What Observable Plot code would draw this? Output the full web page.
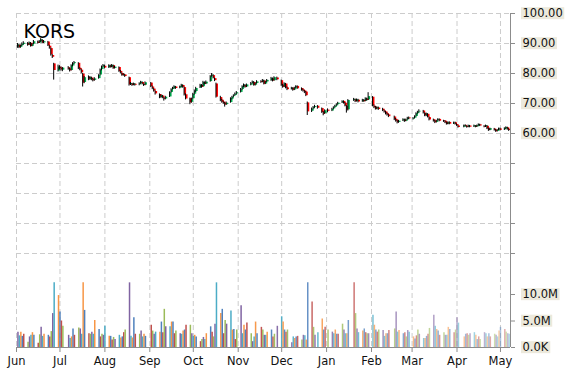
<!DOCTYPE html>
<html><head><meta charset="utf-8">
<script src="https://cdn.jsdelivr.net/npm/d3@7"></script>
<script src="https://cdn.jsdelivr.net/npm/@observablehq/plot@0.6"></script>
<style>
html,body{margin:0;padding:0;background:#fff;}
#chart{position:relative;width:570px;height:370px;}
#chart svg{position:absolute;left:0;top:0;}
</style>
</head><body><div id="chart"></div>
<script>
const ticker = "KORS";
const firstDay = "2014-06-02", lastDay = "2015-05-07";
const holidays = ["2014-07-04","2014-09-01","2014-11-27","2014-12-25","2015-01-01","2015-01-19","2015-02-16","2015-04-03"];
const monthTicks = ["2014-06-01","2014-07-01","2014-08-01","2014-09-01","2014-10-01","2014-11-01","2014-12-01","2015-01-01","2015-02-01","2015-03-01","2015-04-01","2015-05-01"];
const monthLabels = ["Jun","Jul","Aug","Sep","Oct","Nov","Dec","Jan","Feb","Mar","Apr","May"];
const priceTicks = [60,70,80,90,100];
const priceGridLevels = [20,30,40,50,60,70,80,90,100];
const volumeTicks = [0,5e6,10e6];
const volumeTickLabels = ["0.0K","5.0M","10.0M"];

const opens = [
88.8,89.4,88.7,89.3,89.7,90.0,89.5,90.1,89.1,89.8,90.5,90.1,90.6,91.0,90.2,90.5,89.1,88.3,86.0,83.2,80.8,
82.1,81.7,81.1,81.9,81.5,81.0,82.5,83.3,83.4,81.7,81.1,79.8,77.0,78.7,78.0,78.5,78.0,77.7,78.3,79.5,81.3,82.2,
82.4,81.9,82.5,82.1,82.6,81.7,82.0,80.7,80.0,79.4,79.5,78.6,76.3,76.5,76.1,76.4,76.2,76.7,77.0,76.3,76.1,
76.8,75.5,74.8,74.0,73.0,72.0,72.5,71.8,71.5,72.2,73.7,74.7,75.0,75.5,75.1,75.5,76.0,75.3,72.9,71.6,70.4,
71.6,73.1,74.0,75.2,76.0,75.6,76.9,76.5,77.3,79.1,79.3,78.3,76.5,72.0,71.1,70.5,70.1,69.6,70.3,71.5,72.3,72.7,73.2,
73.7,74.7,75.5,76.0,75.5,76.1,76.7,77.0,76.1,76.7,77.3,77.1,77.5,76.5,77.2,77.6,78.2,77.6,78.5,
77.6,76.1,75.5,76.5,75.2,74.7,75.1,74.5,75.2,75.7,75.0,74.5,74.2,73.8,70.2,67.4,68.2,68.7,69.1,68.3,67.1,66.6,
67.8,67.5,68.2,68.7,69.2,69.7,70.2,70.7,70.1,69.0,67.9,71.0,71.2,70.7,71.1,70.6,71.0,70.8,71.5,71.2,
72.1,69.1,68.7,68.2,68.5,68.1,67.5,67.2,66.6,66.2,65.5,64.7,64.2,63.7,64.2,64.5,64.1,64.6,65.2,
64.8,65.1,65.7,66.6,67.2,67.5,66.7,65.8,66.4,65.3,64.6,64.2,63.7,64.3,64.7,64.2,64.1,63.6,63.1,63.7,63.2,63.6,
63.0,62.5,62.1,62.7,62.3,62.1,62.5,62.2,62.5,62.2,62.6,62.9,62.4,62.2,62.4,61.6,61.1,61.5,61.1,60.7,61.2,
61.5,61.2,61.6,61.9,61.4];
const highs = [
90.0,89.6,89.5,90.2,90.6,90.3,90.5,90.3,90.0,91.0,90.8,91.0,91.6,91.3,91.0,90.7,89.4,88.5,86.3,83.4,82.8,
82.6,82.2,82.0,82.3,81.8,82.9,83.6,84.0,83.6,81.9,81.4,80.0,79.0,79.2,79.0,78.8,78.3,78.6,79.6,81.5,82.5,83.0,
82.8,82.9,82.8,83.0,82.8,82.4,82.2,81.0,80.2,79.9,79.7,78.8,77.0,76.7,76.8,76.6,76.9,77.4,77.2,76.5,77.2,
77.0,75.8,75.0,74.2,73.2,72.9,72.7,72.0,72.4,73.9,74.9,75.4,75.9,75.7,75.8,76.4,76.2,75.5,73.2,71.8,71.8,
73.4,74.5,75.4,76.4,76.3,77.4,77.2,77.5,79.3,80.0,79.6,78.5,76.8,72.4,71.4,70.8,70.3,70.5,71.9,72.4,72.9,73.5,74.0,
75.0,75.9,76.5,76.3,76.5,77.0,77.5,77.3,76.9,77.6,77.6,78.0,77.8,77.4,78.0,78.7,78.5,78.9,78.8,
77.8,76.4,76.9,76.7,75.5,75.4,75.3,75.4,75.9,75.9,75.2,74.8,74.4,74.0,70.5,68.5,69.0,69.4,69.3,68.5,67.3,67.9,
68.2,68.4,68.9,69.4,69.9,70.4,70.9,70.9,70.3,69.3,71.3,71.7,71.5,71.5,71.4,71.4,71.3,71.9,71.8,73.6,
72.3,69.5,69.0,68.9,68.8,68.4,67.8,67.4,66.9,66.4,65.8,65.0,64.4,64.4,64.9,64.8,64.8,65.4,65.5,
65.3,65.9,66.9,67.4,67.9,67.7,66.9,66.8,66.6,65.5,64.8,64.4,64.4,64.9,64.9,64.4,64.3,63.8,63.9,63.9,63.8,63.8,
63.2,62.7,62.8,62.9,62.5,62.8,62.7,62.8,62.6,62.8,63.2,63.1,62.6,62.8,62.6,61.8,61.8,61.7,61.3,61.3,61.8,
61.8,61.9,62.2,62.1,61.6];
const lows = [
88.4,88.3,88.4,89.0,89.5,89.1,89.3,88.8,88.9,89.6,89.8,90.0,90.4,90.0,90.0,89.0,88.1,85.8,85.0,77.8,80.5,
81.2,80.8,80.6,81.1,80.5,80.8,82.2,83.0,81.3,80.9,79.9,75.5,76.6,77.6,77.7,77.6,77.2,77.4,78.1,79.2,80.9,82.0,
81.5,81.7,81.8,81.9,81.4,81.5,80.4,79.9,79.1,79.1,78.7,75.8,76.0,75.7,75.9,75.8,75.9,76.4,76.2,75.7,75.9,
75.3,74.6,73.8,72.8,71.6,71.7,71.6,70.8,71.2,72.0,73.5,74.5,74.8,74.7,74.9,75.3,75.1,72.5,71.2,69.6,70.1,
71.3,72.8,73.7,75.0,75.1,75.4,76.2,76.3,77.1,78.8,78.2,77.3,71.8,70.6,70.1,69.7,68.8,69.4,70.1,71.2,72.0,72.5,72.9,
73.5,74.4,75.3,75.1,75.3,75.9,76.5,75.8,75.8,76.5,76.7,76.9,76.2,76.3,77.0,77.4,77.2,77.4,77.6,
75.7,75.1,75.3,74.9,74.3,74.5,74.1,74.3,75.0,74.7,74.1,73.8,73.3,72.3,66.0,67.0,67.9,68.4,68.1,66.7,65.9,66.4,
66.9,67.3,68.0,68.5,69.0,69.5,70.0,69.8,68.9,66.8,67.5,70.7,70.3,70.5,70.2,70.4,70.4,70.6,70.8,71.0,
68.9,68.3,67.8,67.9,67.7,67.3,66.8,66.2,65.8,65.3,64.3,63.8,63.2,63.4,64.0,63.7,63.9,64.4,64.6,
64.5,64.9,65.5,66.4,66.9,66.5,65.6,65.6,65.2,64.2,63.8,63.3,63.5,64.1,63.9,63.7,63.3,62.8,62.9,62.9,63.0,62.8,
62.4,61.8,61.9,62.2,61.8,61.9,61.9,62.0,61.9,62.0,62.4,62.3,61.9,62.0,61.3,60.7,60.9,60.8,60.4,60.5,61.0,
60.8,61.0,61.4,61.1,60.7];
const closes = [
89.5,88.6,89.2,89.8,90.1,89.4,90.2,89.0,89.6,90.6,90.0,90.7,91.2,90.1,90.6,89.2,88.4,86.2,85.4,81.0,82.2,
81.6,81.2,81.8,81.4,80.9,82.6,83.2,83.6,81.6,81.2,80.2,76.8,78.6,78.1,78.6,77.9,77.6,78.2,79.3,81.2,82.1,82.6,
81.8,82.6,82.0,82.7,81.6,82.1,80.6,80.1,79.3,79.6,79.0,76.2,76.6,76.0,76.5,76.1,76.6,77.1,76.4,76.0,76.9,
75.6,74.9,74.1,73.2,72.1,72.6,71.9,71.4,72.1,73.6,74.6,75.1,75.6,75.0,75.6,76.1,75.4,72.8,71.5,70.2,71.4,
73.0,74.1,75.0,76.1,75.4,77.0,76.4,77.1,79.0,79.4,78.4,77.6,72.1,71.0,70.4,70.0,69.5,70.1,71.6,72.1,72.6,73.1,73.6,
74.6,75.6,76.1,75.4,76.2,76.6,77.1,76.0,76.6,77.2,77.0,77.6,76.4,77.1,77.7,78.3,77.5,78.6,77.9,
76.0,75.4,76.6,75.1,74.6,75.0,74.4,75.1,75.6,74.9,74.4,74.1,73.6,72.6,67.2,68.1,68.6,69.0,68.4,67.0,66.4,67.6,
67.4,68.1,68.6,69.1,69.6,70.1,70.6,70.0,69.1,67.8,71.0,71.3,70.6,71.2,70.5,71.1,70.6,71.6,71.0,72.3,
69.2,68.6,68.1,68.6,68.0,67.6,67.1,66.5,66.1,65.6,64.6,64.1,63.6,64.1,64.6,64.0,64.5,65.1,64.9,
65.0,65.6,66.6,67.1,67.4,66.8,65.9,66.5,65.4,64.5,64.1,63.6,64.2,64.6,64.1,64.0,63.5,63.0,63.6,63.1,63.5,63.0,
62.6,62.0,62.6,62.4,62.0,62.6,62.1,62.6,62.1,62.6,63.0,62.5,62.1,62.6,61.5,61.0,61.6,61.0,60.6,61.1,61.5,
61.1,61.7,62.0,61.3,61.0];
// volume, millions of shares
const volumes = [
2.9,2.2,2.9,2.1,2.5,1.0,2.0,2.3,2.8,2.3,0.8,2.4,3.8,2.1,2.5,2.3,2.0,3.0,6.4,12.2,9.8,
6.7,5.0,4.0,2.3,1.7,2.0,3.5,2.3,3.7,3.5,2.5,12.2,7.0,2.6,2.5,2.9,2.5,5.1,3.4,2.0,2.5,2.3,
4.0,2.1,2.1,1.4,1.9,1.5,2.3,1.8,2.0,2.8,3.3,12.2,2.1,1.8,5.6,2.5,2.5,3.1,2.0,2.5,2.1,
4.2,3.1,2.5,2.9,2.9,4.8,2.8,7.2,3.9,3.9,4.8,4.8,2.6,3.1,2.6,2.5,3.1,3.3,4.2,4.2,2.6,
2.1,2.3,2.0,1.1,1.5,1.9,1.5,2.6,3.9,2.9,2.0,4.4,12.2,6.4,7.2,2.6,5.1,4.4,6.9,3.3,3.4,1.5,3.3,
7.9,2.6,4.2,3.3,4.6,2.6,1.1,2.0,4.8,2.6,3.8,3.3,2.3,2.3,2.9,3.3,2.0,2.5,4.0,
5.8,4.8,3.3,2.9,3.3,0.9,2.0,1.7,2.0,2.1,1.4,2.3,2.2,1.4,12.2,8.6,3.8,2.3,2.8,5.4,3.3,3.8,
3.3,2.9,2.6,3.3,2.5,2.5,4.4,3.3,2.6,2.6,5.1,12.2,6.4,3.5,2.8,3.1,3.5,2.8,2.6,2.6,
6.1,4.2,3.3,2.9,3.3,3.2,2.1,2.6,2.6,3.2,3.5,6.7,2.9,3.2,2.6,2.8,2.0,3.2,2.9,
2.0,1.6,2.2,3.3,2.5,1.7,1.7,2.1,2.5,3.6,6.1,4.0,3.4,3.1,2.3,2.8,2.3,2.3,3.8,3.4,2.8,3.3,
5.6,4.6,2.0,2.5,2.6,2.3,2.6,2.8,2.3,1.5,2.0,1.5,2.8,2.6,2.0,2.6,2.0,2.5,2.3,2.0,3.1,
3.8,3.4,2.9,2.6,2.5];

// ---- build trading dates (weekdays minus exchange holidays)
const parse = d3.utcParse("%Y-%m-%d");
const holidaySet = new Set(holidays);
const dates = [];
for (let d = parse(firstDay); d <= parse(lastDay); d = d3.utcDay.offset(d, 1)) {
  const wd = d.getUTCDay();
  if (wd === 0 || wd === 6) continue;
  if (holidaySet.has(d3.utcFormat("%Y-%m-%d")(d))) continue;
  dates.push(d);
}
const rows = dates.map((date, i) => ({
  date, open: opens[i], high: highs[i], low: lows[i], close: closes[i], volume: volumes[i] * 1e6, i
}));
const monthDates = monthTicks.map(parse);
const xDomain = [parse("2014-06-01"), new Date(Date.UTC(2015, 4, 7, 22))];

const W = 570, H = 370, mL = 16, mR = 60, mT = 13, mB = 23;
const grid = "#cccccc", axisGray = "#8c8c8c";
const font = "DejaVu Sans, Verdana, sans-serif";
const palette = ["#4F81BD","#C0504D","#9BBB59","#8064A2","#4BACC6","#F79646"];
const n = rows.length;
const fade = i => i < 110 ? 1 : 1 - 0.55 * (i - 110) / (n - 1 - 110);

const pricePlot = Plot.plot({
  width: W, height: H,
  marginLeft: mL, marginRight: mR, marginTop: mT, marginBottom: mB,
  style: {fontFamily: font, fontSize: "11.5px", background: "#fff", color: "#111"},
  x: {type: "utc", domain: xDomain},
  y: {domain: [100 - (H - mT - mB) / 3, 100]},
  marks: [
    Plot.ruleY(priceGridLevels, {stroke: grid, strokeDasharray: "5,3"}),
    Plot.ruleX(monthDates, {stroke: grid, strokeDasharray: "5,3"}),
    Plot.ruleX(rows, {x: "date", y1: "open", y2: "close", dx: 0.5, strokeWidth: 2,
      stroke: d => d.close >= d.open ? "#00b050" : "#ff0000"}),
    Plot.ruleX(rows, {x: "date", y1: "low", y2: "high", dx: -0.5, strokeWidth: 1, stroke: "#000"}),
    Plot.ruleX([xDomain[1]], {stroke: axisGray}),
    Plot.axisY(priceGridLevels, {anchor: "right", tickSize: 4, tickPadding: 8, stroke: axisGray, fill: "#111",
      tickFormat: d => priceTicks.includes(d) ? d.toFixed(2) : "", label: null}),
    Plot.axisX(monthDates, {anchor: "bottom", tickSize: 5, tickPadding: 4, stroke: axisGray, fill: "#111",
      tickFormat: d => monthLabels[monthDates.findIndex(m => +m === +d)], label: null}),
    Plot.text([ticker], {frameAnchor: "top-left", dx: 7, dy: 11, textAnchor: "start", fontSize: 19, fill: "#000"})
  ]
});

const volumePlot = Plot.plot({
  width: W, height: H,
  marginLeft: mL, marginRight: mR, marginTop: 283, marginBottom: mB,
  style: {fontFamily: font, fontSize: "11.5px", background: "transparent", color: "#111"},
  x: {type: "utc", domain: xDomain, axis: null},
  y: {domain: [0, 64 / 5.3 * 1e6], axis: null},
  marks: [
    Plot.ruleX(rows, {x: "date", y1: 0, y2: "volume", strokeWidth: 1.5,
      stroke: d => palette[(d.i + 3) % 6], strokeOpacity: d => fade(d.i)}),
    Plot.ruleY([0], {stroke: axisGray}),
    Plot.axisY(volumeTicks, {anchor: "right", tickSize: 4, tickPadding: 8, stroke: axisGray, fill: "#111",
      tickFormat: d => volumeTickLabels[volumeTicks.indexOf(d)], label: null})
  ]
});

const chart = document.getElementById("chart");
chart.appendChild(pricePlot);
chart.appendChild(volumePlot);

// beige label boxes behind right-axis labels
for (const svg of [pricePlot, volumePlot]) {
  svg.querySelectorAll('g[aria-label="y-axis tick label"] text').forEach(t => {
    if (!t.textContent) return;
    const b = t.getBBox();
    const r = document.createElementNS("http://www.w3.org/2000/svg", "rect");
    r.setAttribute("x", b.x - 1.5); r.setAttribute("y", b.y + 1);
    r.setAttribute("width", b.width + 3); r.setAttribute("height", b.height - 2);
    r.setAttribute("fill", "#ece9dc");
    const tr = t.getAttribute("transform");
    if (tr) r.setAttribute("transform", tr);
    t.parentNode.insertBefore(r, t);
  });
}
</script>
</body></html>
